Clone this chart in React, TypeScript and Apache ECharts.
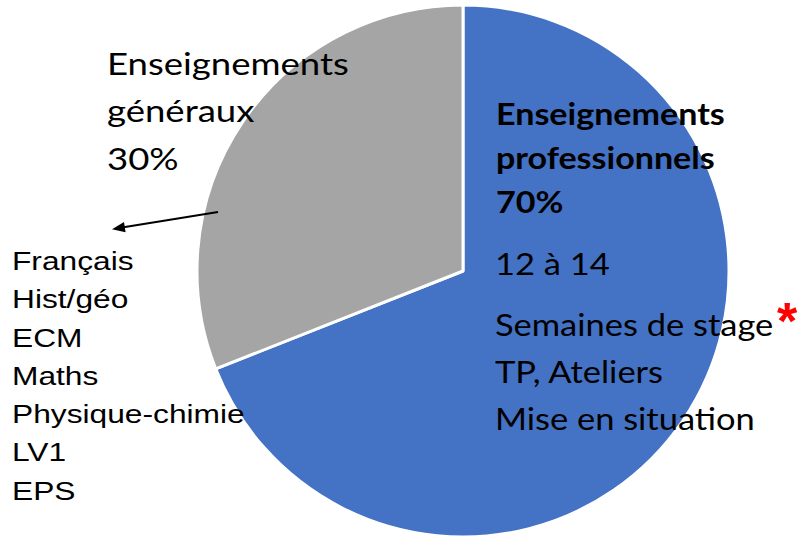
import React, { useEffect, useRef } from "react";
import * as echarts from "echarts";

const categories = ["Enseignements professionnels", "Enseignements généraux"];
const values = [69, 31];
const colors = ["#4472C4", "#A5A5A5"];
const leftTitle = ["Enseignements", "généraux", "30%"];
const rightTitle = ["Enseignements", "professionnels", "70%"];
const rightItems = ["12 à 14", "Semaines de stage", "TP, Ateliers", "Mise en situation"];
const subjects = ["Français", "Hist/géo", "ECM", "Maths", "Physique-chimie", "LV1", "EPS"];

export default function App() {
  const ref = useRef<HTMLDivElement>(null);
  useEffect(() => {
    document.body.style.margin = "0";
    const chart = echarts.init(ref.current!, null, { renderer: "svg" });
    const calib = "Lato, 'Open Sans', sans-serif";
    const arial = "'Liberation Sans', Arial, sans-serif";
    const graphics: any[] = [];
    const txt = (t: string, x: number, y: number, size: number, family: string, weight: string, sx: number, fill = "#000") => ({
      type: "text",
      z: 10,
      x,
      y,
      scaleX: sx,
      style: {
        text: t,
        x: 0,
        y: 0,
        fontSize: size,
        fontFamily: family,
        fontWeight: weight,
        fill,
        verticalAlign: "middle",
      },
    });
    const lt = [63, 110.5, 158];
    leftTitle.forEach((t, i) => graphics.push(txt(t, 107, lt[i], 30.7, calib, "normal", 1.19)));
    const rt = [113.5, 157.5, 201.5];
    rightTitle.forEach((t, i) => graphics.push(txt(t, 496, rt[i], 30.3, calib, "bold", 1.124)));
    const ri = [263, 324, 371, 418];
    rightItems.forEach((t, i) => graphics.push(txt(t, 495, ri[i], 30.7, calib, "normal", 1.123)));
    graphics.push({
      type: "text",
      z: 10,
      x: 787,
      y: 321,
      style: {
        text: "*",
        x: 0,
        y: 0,
        fontSize: 52,
        fontFamily: arial,
        fontWeight: "bold",
        fill: "#FF0000",
        align: "center",
        verticalAlign: "middle",
      },
    });
    subjects.forEach((t, i) => graphics.push(txt(t, 12, 261 + i * 38.3, 26, arial, "normal", 1.22)));
    graphics.push({
      type: "line",
      z: 10,
      shape: { x1: 218, y1: 212, x2: 122, y2: 227.5 },
      style: { stroke: "#000", lineWidth: 2 },
    });
    graphics.push({
      type: "polygon",
      z: 10,
      shape: { points: [[112, 229.2], [125.6, 232.3], [124.0, 222.0]] },
      style: { fill: "#000" },
    });

    chart.setOption({
      animation: false,
      series: [
        {
          type: "pie",
          center: [463, 271],
          radius: 266,
          startAngle: 90,
          clockwise: true,
          label: { show: false },
          labelLine: { show: false },
          emphasis: { disabled: true },
          itemStyle: { borderColor: "#fff", borderWidth: 3 },
          data: categories.map((c, i) => ({ name: c, value: values[i], itemStyle: { color: colors[i] } })),
        },
      ],
      graphic: graphics,
    });
    return () => chart.dispose();
  }, []);
  return <div ref={ref} style={{ width: 800, height: 539, position: "absolute", left: 0, top: 0 }} />;
}
